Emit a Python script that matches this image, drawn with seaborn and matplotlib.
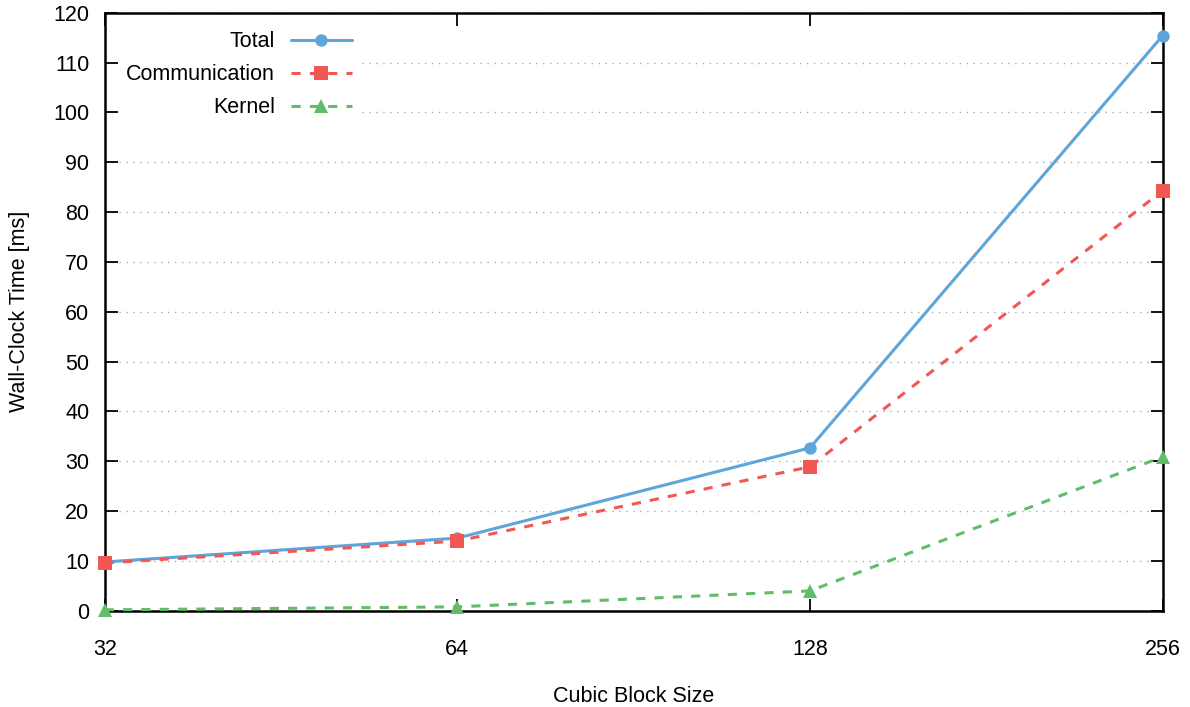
import matplotlib
matplotlib.use("Agg")
import matplotlib.pyplot as plt
import seaborn as sns
import pandas as pd

block_sizes = [32, 64, 128, 256]
total = [9.8, 14.6, 32.7, 115.4]
communication = [9.6, 14.0, 28.9, 84.3]
kernel = [0.2, 0.8, 4.0, 30.9]

series = ["Total", "Communication", "Kernel"]
colors = ["#5DA5DA", "#F15854", "#60BD68"]
markers = ["o", "s", "^"]

df = pd.DataFrame({
    "size": block_sizes * 3,
    "time": total + communication + kernel,
    "series": [s for s in series for _ in block_sizes],
})

sns.set_style("ticks")
plt.rcParams["font.family"] = ["Liberation Sans", "DejaVu Sans"]
plt.rcParams["text.color"] = "black"
plt.rcParams["axes.labelcolor"] = "black"
fs = 15.5

fig, ax = plt.subplots(figsize=(11.9, 7.07), dpi=100)
fig.subplots_adjust(left=0.088, right=0.977, top=0.982, bottom=0.136)

for name, color, marker in zip(series, colors, markers):
    sub = df[df["series"] == name]
    ls = "-" if name == "Total" else (0, (3, 3))
    sns.lineplot(data=sub, x="size", y="time", ax=ax, color=color, marker=marker,
                 markersize=10 if marker != "o" else 9, markeredgewidth=0,
                 linewidth=2.2, linestyle=ls, label=name, clip_on=False, zorder=3)

ax.set_xscale("log", base=2)
ax.set_xlim(32, 256)
ax.set_xticks(block_sizes)
ax.set_xticklabels([str(b) for b in block_sizes])
ax.minorticks_off()
ax.set_ylim(0, 120)
ax.set_yticks(range(0, 121, 10))
ax.yaxis.grid(True, linestyle=(0, (1, 4)), color="#aaaaaa", linewidth=1)
ax.set_axisbelow(True)

ax.tick_params(axis="both", direction="in", length=9, width=1.3, top=True, right=True,
               labelsize=fs, colors="black")
ax.tick_params(axis="x", pad=20)
ax.tick_params(axis="y", pad=11)
for sp in ax.spines.values():
    sp.set_linewidth(1.8)
    sp.set_color("black")

ax.set_xlabel("Cubic Block Size", fontsize=fs, labelpad=19)
ax.set_ylabel("Wall-Clock Time [ms]", fontsize=fs, labelpad=17)

leg = ax.legend(loc="upper left", markerfirst=False, frameon=True, fancybox=False,
                edgecolor="none", facecolor="white", framealpha=1, fontsize=fs,
                handlelength=2.8, handletextpad=0.75, borderaxespad=0.6, borderpad=0.4,
                labelspacing=0.56, bbox_to_anchor=(0.0, 1.005))
for t in leg.get_texts():
    t.set_ha("right")
leg._legend_box.align = "right"
leg.set_zorder(5)

fig.savefig("out.png", dpi=100)
